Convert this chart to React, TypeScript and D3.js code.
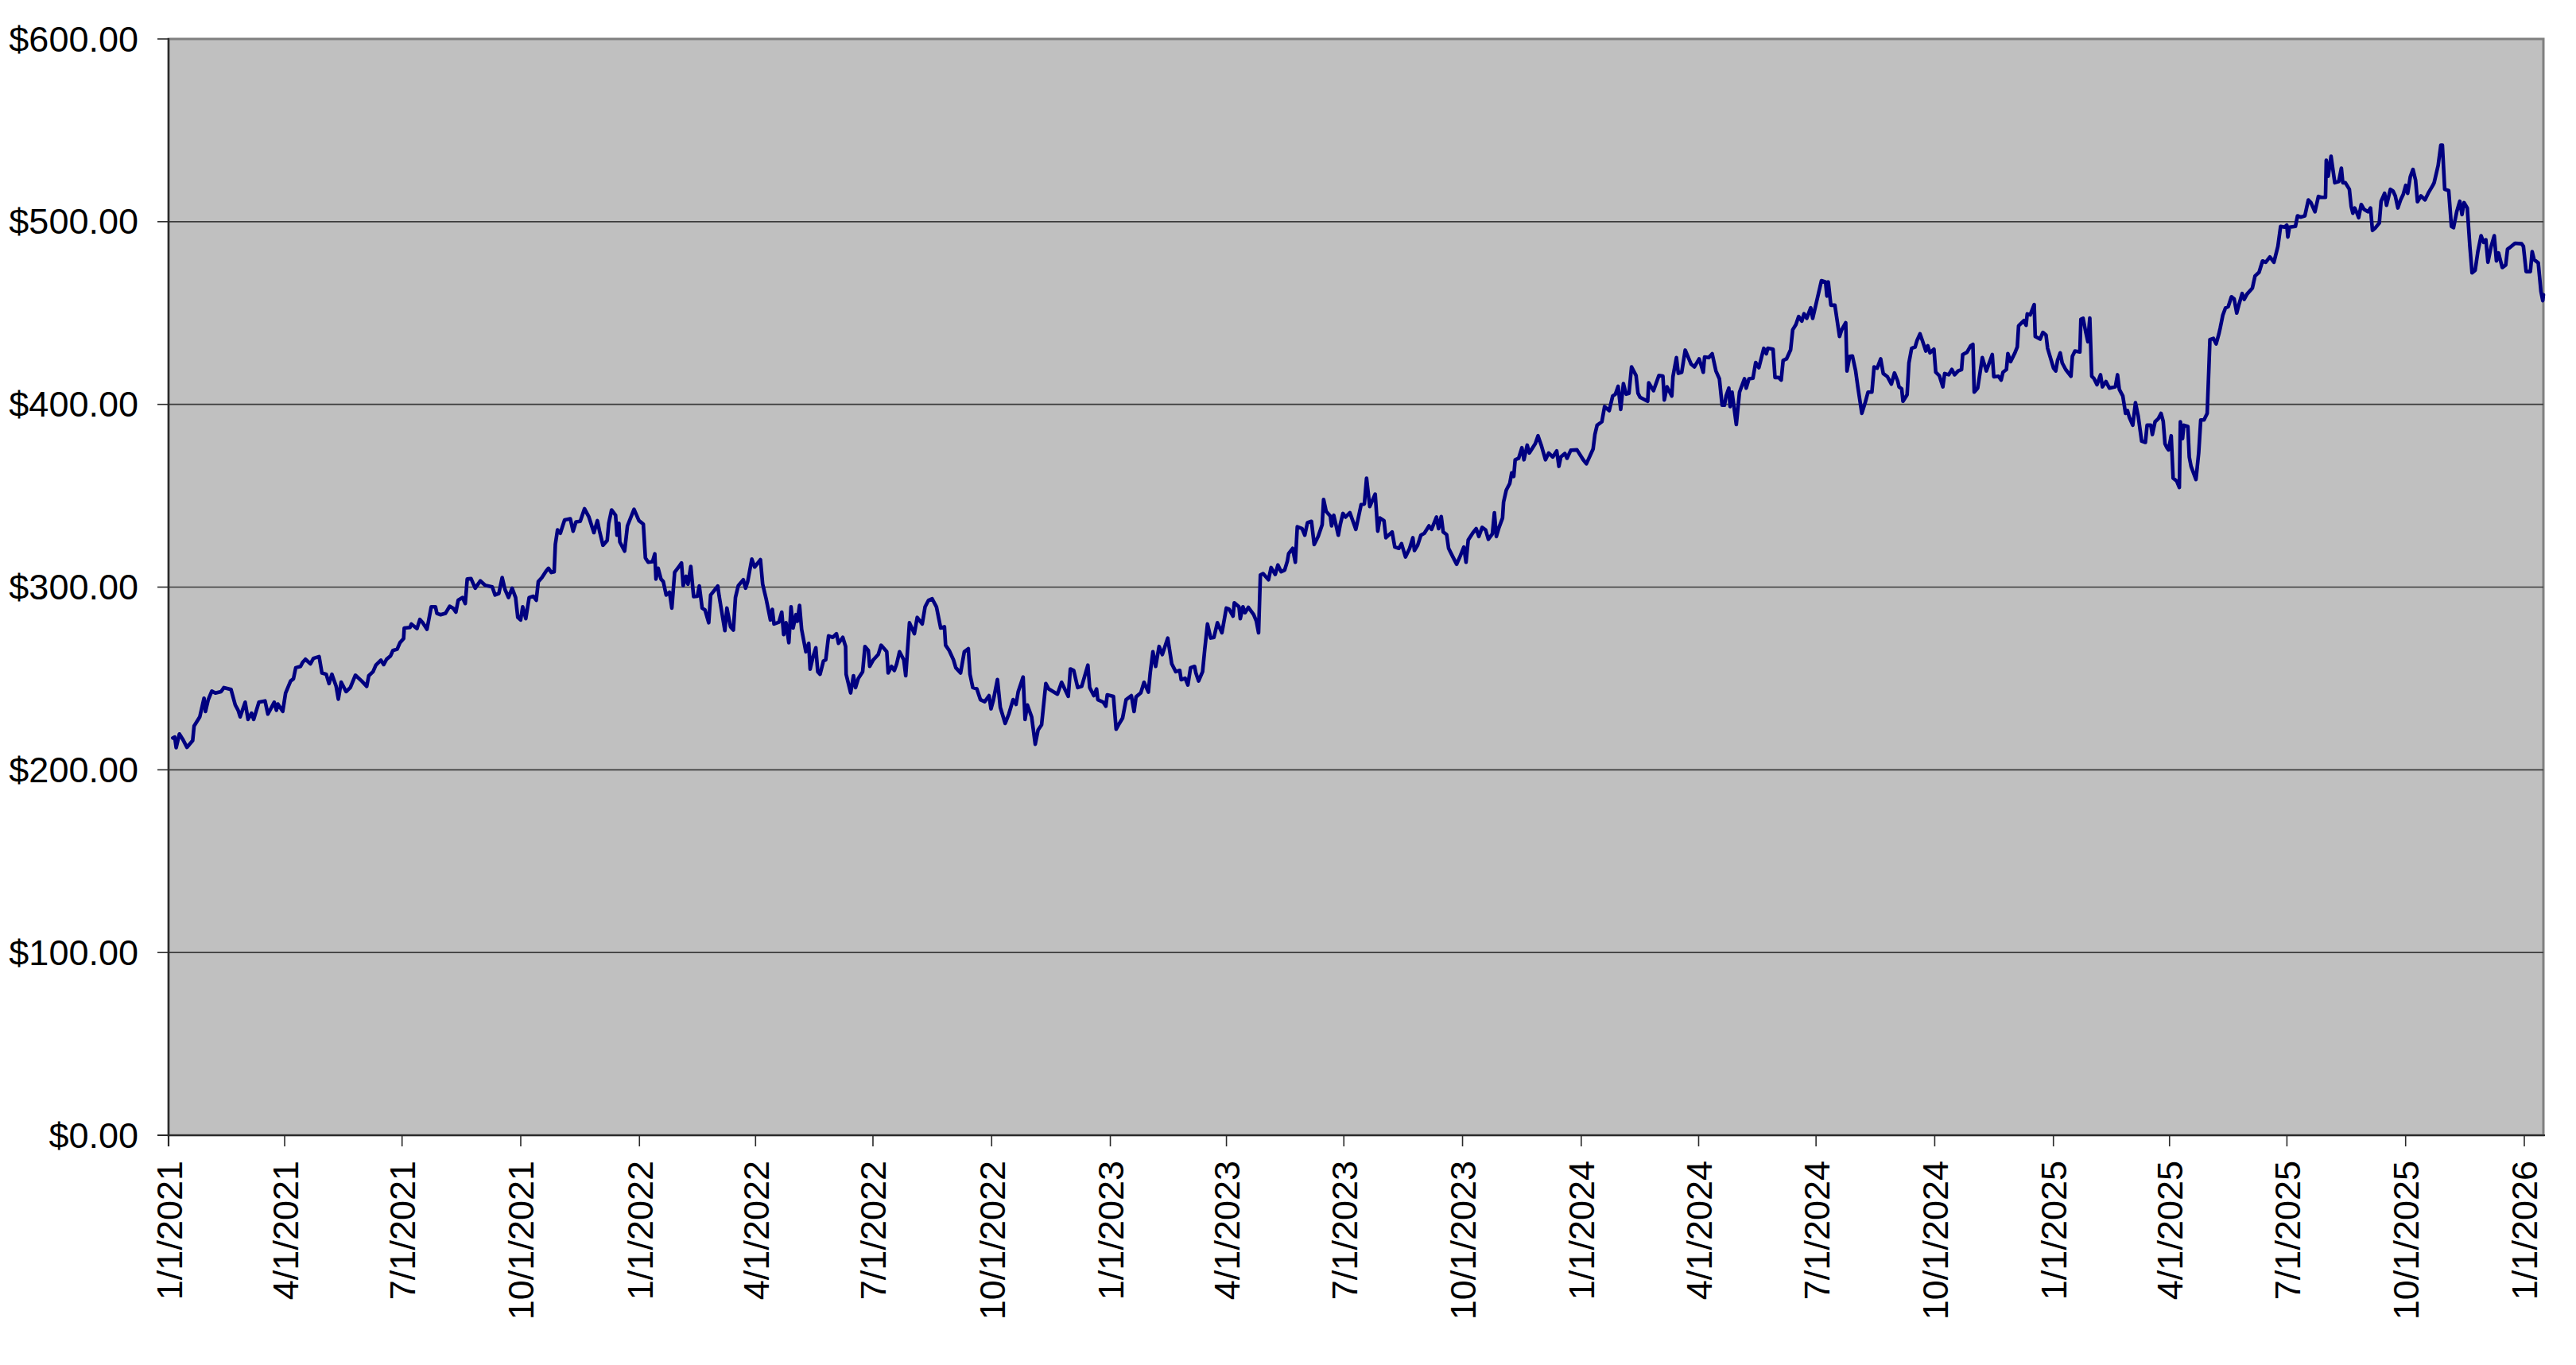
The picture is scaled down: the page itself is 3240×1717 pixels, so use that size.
import React from "react";
import * as d3 from "d3";

// Days since 1/1/2021 and closing price
const dayOffsets: number[] = [
  3.3, 4.8, 5.9, 8.4, 11, 14.3, 18.7, 19.8, 24.2, 27.5, 28.6, 30.8, 33.5, 36.3, 40.7, 42.9, 48.4, 51.7, 53.9, 55.5,
  59.4, 61.6, 64.3, 66, 70, 74.8, 77, 81.9, 83.6, 84.7, 88.5, 90.7, 94.6, 96.8, 98.6, 102.3, 103.9, 106.1, 110, 112.3,
  116.7, 118.9, 122.2, 124.4, 126.6, 129.9, 131.6, 133.8, 137.6, 140.9, 144.8, 149.7, 153.6, 155.2, 158.5, 160.7, 164.6, 166.8, 169, 172.1,
  173.9, 177.2, 179.4, 182.2, 182.7, 187.1, 188.2, 192.6, 194.8, 197, 200.3, 203.6, 206.9, 208, 210.9, 214.6, 217.9, 220.5, 222.7, 224.5,
  227.8, 230, 231.5, 234.4, 237.7, 241.7, 245.4, 250.9, 253.1, 256, 258.6, 260.8, 263.5, 266.3, 269, 270.7, 272.9, 274.5, 276.9, 279.5,
  282.8, 285, 286.6, 289.4, 292.7, 294.5, 296.7, 298.9, 299.8, 301.5, 303.7, 304.8, 307, 311.4, 313.6, 315.8, 319.1, 322.4, 325.7, 329.7,
  332.4, 334.1, 336.7, 340, 341.2, 343.4, 346.5, 347.6, 349.1, 349.8, 353.5, 355.7, 360.8, 364.6, 368, 369.6, 371.8, 375.1, 376.9, 377.8,
  379.5, 381.7, 383.5, 385.7, 388.3, 390.1, 392.3, 395.4, 397.6, 398.9, 401.1, 402.6, 404.8, 407, 409.9, 411.4, 413.6, 415.8, 418.7, 420.2,
  423.5, 425.7, 426.8, 431.2, 432.8, 435.6, 437.8, 439.4, 441.6, 445.5, 447.3, 448.9, 452.1, 454.3, 458.8, 460.5, 463.2, 466.5, 468, 469.3,
  473.1, 475.3, 476.8, 478.6, 480.8, 482.5, 484.1, 486.3, 487.4, 489.1, 490.7, 494, 496.2, 497.3, 499.5, 501.7, 503.2, 505, 507.6, 509.4,
  511.6, 514.9, 517.7, 519.3, 522.6, 524.8, 525.2, 528.7, 530.9, 532.5, 534.7, 538, 539.8, 542.4, 543.5, 546.3, 550.1, 552.3, 556.7, 557.8,
  560.4, 562.6, 564.4, 566.6, 569.9, 571.4, 574.3, 578.1, 580.3, 584.2, 586.4, 589.1, 591.9, 595.2, 598.5, 601.4, 602.3, 605.1, 608.4, 610.2,
  613.9, 616.8, 619.9, 621.2, 623.4, 626.5, 629.3, 632.6, 636, 637.5, 639.2, 642.5, 644.7, 648.5, 651.3, 654.6, 656.9, 658.6, 662.4, 663.9,
  665.7, 669, 671.8, 674, 676.7, 680, 682.2, 689, 692.2, 697.4, 699, 701.6, 704.7, 707.8, 712.6, 714, 717.2, 719.3, 720.3, 724.5,
  726.5, 727.6, 732.4, 734.5, 737, 739.5, 742.2, 746.3, 748.4, 749.9, 753.6, 756.1, 759.5, 760.9, 763, 765.1, 767.8, 770.3, 774.5, 777.6,
  780.7, 783.8, 784.9, 788, 790.1, 792.2, 795.3, 796.3, 798.4, 801.5, 803.2, 805.3, 807.8, 810.3, 813, 816.5, 819.9, 822, 825.1, 826.1,
  829.7, 830.7, 832.8, 834.4, 837, 841.1, 843.2, 844.9, 846.3, 848.4, 852.6, 854.6, 857.8, 859.9, 862.4, 865.1, 867.2, 868.2, 871.3, 873.4,
  874.9, 878.6, 880.7, 882.8, 885.9, 888, 891.1, 894.2, 895.3, 897.3, 900.5, 901.5, 903.2, 906.7, 908.2, 910.3, 912.3, 915.7, 920.3, 924.4,
  926.9, 928.6, 931.1, 935.3, 937.3, 939, 942.1, 943.6, 948.4, 950.5, 953.6, 955.7, 958.8, 962, 964.5, 965.7, 968.2, 970.7, 973.4, 977,
  979, 982.8, 984.4, 986.5, 988, 990.7, 992.2, 995.3, 998.4, 1001.1, 1004, 1005.7, 1007.4, 1009.4, 1011.1, 1013.6, 1015.6, 1018.2, 1020.9, 1023,
  1026.1, 1027.7, 1029.2, 1031.3, 1034, 1034.8, 1036.9, 1039.6, 1041.1, 1042.7, 1043.8, 1046.5, 1049, 1050.6, 1053.1, 1054.8, 1059.4, 1061.5, 1064, 1067.3,
  1069.8, 1072.9, 1076, 1077.7, 1079.2, 1082.3, 1084, 1086.9, 1091.7, 1096.5, 1099, 1104.2, 1105.6, 1107.3, 1111, 1113.1, 1116.7, 1119.4, 1121.5, 1123.6,
  1125.6, 1127.7, 1129.8, 1132, 1134, 1137.5, 1139, 1140.6, 1146.5, 1147.3, 1151, 1155.2, 1158.3, 1159.4, 1161.5, 1165.2, 1166.1, 1168.8, 1170.2, 1172.9,
  1175.6, 1180.2, 1182.7, 1186.4, 1189.6, 1190.6, 1193.8, 1196.5, 1199.4, 1202.1, 1204.2, 1206, 1207.3, 1209.4, 1210.4, 1211.9, 1215.2, 1217.7, 1221.5, 1222.9,
  1225, 1228.1, 1230.2, 1232.7, 1236.5, 1238.5, 1239.6, 1243.7, 1245.2, 1248, 1250, 1251.5, 1254.1, 1257.3, 1258.9, 1261.4, 1263.5, 1266, 1267.7, 1269.8,
  1272.9, 1274.4, 1278.1, 1281.2, 1284.4, 1285.4, 1286.5, 1288.5, 1291.6, 1295.2, 1296.9, 1300, 1301, 1303.1, 1305.2, 1307.7, 1309.4, 1312.5, 1315.2, 1317.3,
  1320.3, 1322, 1324.4, 1327.1, 1329.1, 1332.3, 1335.4, 1337.8, 1340.3, 1341.3, 1343.4, 1344.4, 1347.6, 1349, 1351.1, 1353.8, 1355.3, 1357.6, 1359.4, 1362.1,
  1363.6, 1365.3, 1368.4, 1369.8, 1372.6, 1375.3, 1376.7, 1379.8, 1382.3, 1384.4, 1387.1, 1389.8, 1390.7, 1394, 1396.9, 1398.6, 1399.6, 1402.3, 1405.9, 1409,
  1413.6, 1414.8, 1418.4, 1420.5, 1421.9, 1424.6, 1425.7, 1427.8, 1430.9, 1433, 1434, 1438.2, 1439.8, 1440.7, 1443, 1446.1, 1446.9, 1450.7, 1452.8, 1455.3,
  1456.5, 1461.1, 1462.8, 1464.2, 1466.3, 1467.8, 1470.5, 1474.6, 1475.7, 1477.7, 1481.5, 1482.3, 1484, 1486.1, 1487.7, 1489.2, 1490.7, 1492.3, 1494.8, 1497.5,
  1499, 1501.7, 1504.4, 1509, 1510.7, 1512.1, 1514.8, 1516.9, 1518.4, 1519.8, 1522.5, 1524.6, 1526.7, 1529.4, 1532.3, 1533.6, 1536.5, 1537.7, 1539.8, 1542.3,
  1544.4, 1546.1, 1547.5, 1549, 1550.2, 1552.3, 1553.8, 1556.5, 1558.6, 1559.4, 1561.1, 1562.1, 1565.2, 1566.3, 1567.7, 1571.5, 1573.6, 1575.2, 1577.7, 1580.2,
  1581.5, 1582.3, 1585, 1587.1, 1589.2, 1590.2, 1592.3, 1594.4, 1596.5, 1599, 1601.1, 1603.1, 1604.8, 1607.3, 1608.9, 1611.1, 1615.2, 1617.3, 1620.4, 1623.1,
  1625.6, 1628.8, 1631.9, 1635, 1637.1, 1640.2, 1641.9, 1642.7, 1644, 1648.6, 1650.2, 1652.8, 1655.9, 1658.6, 1660.6, 1663.7, 1666.4, 1668.8, 1671.9, 1672.5,
  1674, 1676.2, 1679.1, 1682.2, 1684.2, 1685.3, 1687.3, 1690.4, 1691.8, 1693.1, 1694.5, 1695.9, 1697.6, 1699.6, 1701.7, 1704.8, 1706.8, 1708.3, 1710.3, 1713.6,
  1715, 1717.7, 1719.2, 1722.2, 1724.3, 1726, 1728, 1730.1, 1732.1, 1734.1, 1735.6, 1737.6, 1739.7, 1741.7, 1743.2, 1745.9, 1749, 1752, 1755.1, 1756.1,
  1759.2, 1761.3, 1762.5, 1764.3, 1767.4, 1769.5, 1771.1, 1773.6, 1776, 1777.7, 1779.3, 1781.8, 1783.8, 1785.5, 1787.9, 1790, 1792.5, 1794.5, 1796.2, 1797.8,
  1800.3, 1802.7, 1804.4, 1806, 1808.9, 1811.6, 1813, 1814.7, 1818.8, 1823.9, 1825.3, 1827.4, 1830.7, 1832.1, 1833.6, 1836.8, 1838.9, 1840.3, 1840.8,
];

const prices: number[] = [
  217.4, 217.9, 212.1, 219.6, 216.7, 212.3, 216, 224, 229, 239.2, 231.9, 238.4, 243.1, 242, 242.8, 245, 244, 235.5, 232.6, 229,
  237, 227.6, 231, 227.6, 237, 237.7, 230.5, 237, 232.6, 236, 232, 242, 248.6, 249.8, 255.9, 256.6, 258.8, 260.5, 258, 261,
  262, 253, 252.3, 247.2, 252.3, 245.7, 238.7, 248, 242.8, 245, 251.8, 248.6, 245.7, 251.5, 253.7, 257.3, 260, 257.6, 260.5, 262.4,
  265.3, 266, 269.6, 271.8, 277.6, 277.9, 279.8, 277.3, 282.3, 280.5, 276.9, 289.2, 289.2, 285.6, 284.9, 285.6, 289.5, 288.5, 286.3, 292.8,
  294.3, 291, 304.4, 304.7, 299.4, 303.4, 301, 300.1, 295.7, 296.5, 305.2, 298.7, 294.3, 299.4, 294.3, 283.4, 282, 289.2, 282.7, 294.3,
  295, 292.8, 303, 305.2, 308.8, 310.3, 308, 308.4, 323.3, 331.3, 329.5, 332, 336.8, 337.4, 330.6, 335.7, 336, 342.9, 338.6, 329.8,
  336.4, 330.6, 322.9, 325.5, 334.9, 342.2, 339.3, 328.4, 334.9, 324.7, 319.7, 333.5, 342.6, 336.4, 334.5, 316, 313.6, 313.9, 318.2, 304.4,
  310.3, 304.4, 303, 295.7, 297.2, 288.5, 308.1, 311, 313.2, 300.8, 305.9, 301.6, 311.3, 294.8, 295, 300.6, 288.5, 287.5, 280.5, 295.7,
  298.6, 300.6, 295, 276.2, 288.5, 278.3, 276.5, 294.3, 300.8, 304, 299.4, 303, 315.3, 311, 315, 301.6, 293.6, 282, 287.8, 279.8,
  280.8, 286.3, 274, 280.5, 269.6, 289.2, 277.6, 284.9, 281.3, 290, 276.9, 264.6, 269.2, 255.1, 261.7, 266.8, 253.7, 252.3, 259.5, 260.2,
  273.3, 272.5, 274.5, 269.2, 272.5, 267.5, 252.3, 242.1, 251.5, 245, 250.1, 253.7, 267.5, 265.3, 256.6, 260.2, 263.1, 268.2, 264.6, 253,
  256.6, 254.4, 258, 264.6, 260.2, 251.5, 280.5, 274.5, 283.4, 279.8, 289.2, 292.8, 293.6, 289.2, 277.6, 278.3, 268.2, 265.3, 260.2, 255.9,
  253, 264.6, 266.3, 252.3, 245, 244.3, 238.4, 237.3, 240.6, 233.4, 237.7, 249.4, 234.2, 225.4, 230.5, 238.4, 235.8, 242.8, 250.8, 227.6,
  235.5, 229, 214, 221.8, 224.6, 247.2, 244.3, 241.4, 247.9, 240.2, 255.2, 254.4, 245, 245.7, 257.3, 245, 240.6, 244.3, 238.4, 237,
  234.8, 241, 240.2, 222.2, 225.4, 228.3, 238.4, 240.6, 231.9, 239.9, 242.1, 247.9, 242.5, 253, 264.6, 256.6, 267.5, 263.1, 272.1, 258,
  253.7, 254.4, 249.3, 250.1, 246.4, 255.9, 256.6, 253, 248.6, 253.7, 266, 279.8, 272.1, 272.5, 280.5, 275, 288.5, 288, 284.1, 291.4,
  289.2, 282.7, 289.2, 286, 288.9, 284.9, 281.3, 275, 306.6, 307.4, 304, 310.7, 306.9, 312.1, 308.4, 309.3, 314.2, 318.3, 321.2, 313.6,
  333, 332, 328.4, 335.3, 336, 323.3, 327.7, 334.2, 348, 341.4, 338.8, 333.5, 339.3, 328.4, 334.2, 340.3, 338.3, 340.7, 331.6, 345.1,
  345.5, 359.6, 344.1, 350.9, 330.6, 337.8, 336.4, 327, 330.2, 321.9, 321.2, 323.8, 316.5, 321.2, 327, 320, 322.9, 328.4, 329.5, 333.5,
  331.6, 338.3, 332, 338.6, 330.2, 328.7, 321.2, 316.8, 312.5, 316.8, 321.9, 313.6, 325.8, 328, 329.8, 332, 327.7, 332.7, 331.3, 326.2,
  329.1, 340.7, 327.7, 332.7, 337.8, 346.6, 353.1, 356.7, 362.5, 360.6, 369.7, 370.5, 376.3, 369.7, 377.7, 373.4, 378.5, 382.8, 377.7, 369.7,
  373.4, 371.2, 374.5, 366.1, 371.2, 373.1, 370.5, 374.9, 375.1, 369.7, 367.5, 375.6, 383.5, 388.6, 390.5, 398.8, 396.6, 404.6, 405.6, 409.9,
  397.3, 411.4, 405.6, 406, 420.5, 415.8, 406.1, 403.9, 401.7, 411.8, 407.5, 415.8, 415.5, 402.4, 409.6, 404.6, 415.2, 425.6, 417, 417.6,
  429.7, 422, 420.5, 424.9, 417.6, 425.9, 425.6, 427.7, 418.3, 414, 399.5, 399.5, 404.6, 408.9, 398.8, 406.7, 389, 406.7, 414, 408.9,
  414, 414.3, 422.9, 420.1, 430.7, 427.7, 430.7, 430.2, 414.7, 414.7, 413.3, 424.1, 424.9, 429.9, 440.8, 443.7, 448.1, 445.6, 449.6, 447.1,
  452.9, 447.1, 458.3, 467.7, 467, 459.3, 467, 454.3, 454.3, 437.2, 440.8, 444.7, 418.3, 426.3, 426.5, 418.3, 409.6, 395.1, 401.2, 406.7,
  406.7, 420.5, 419.8, 424.9, 416.9, 415.2, 411.1, 417.2, 412.8, 409.6, 408.5, 401.7, 405.3, 422.7, 430.7, 431.4, 435, 438.6, 435, 429.2,
  432.1, 428.2, 430.2, 417.6, 415.7, 409.6, 416.9, 416.2, 419.1, 416.2, 418.3, 419.1, 427.3, 428.5, 432.1, 432.8, 406.7, 408.9, 425.6, 418.3,
  427.3, 415.1, 415.4, 413.3, 417.6, 419.1, 427.8, 423.4, 427.8, 431.4, 443, 445.9, 443.3, 449.5, 449, 454.6, 437.2, 435.7, 439.4, 437.9,
  430.7, 419.8, 418.3, 424.1, 428.2, 422.7, 419.1, 415.4, 426.3, 429.2, 428.7, 446.6, 447.1, 439.4, 434.3, 447.3, 415.4, 414.3, 410.8, 416.2,
  409.6, 412.5, 408.9, 409.6, 416.2, 408.2, 404.6, 395.1, 396.6, 393, 388.6, 400.9, 393.7, 379.9, 379.2, 388.6, 388.6, 383.5, 390.5, 392.2,
  395.1, 390.8, 378.4, 376.3, 375.1, 382.8, 359.6, 358.1, 354.5, 390.5, 381.3, 388.6, 387.9, 371.2, 366.1, 358.9, 373.4, 391.5, 391.5, 395.1,
  419.8, 435.5, 436.1, 433.1, 438.4, 441.5, 448.8, 452.8, 453.5, 458.9, 457.7, 450, 454.6, 460.7, 457.5, 460.4, 463.6, 470.3, 472.3, 478.5,
  477.8, 480.7, 477.8, 486.5, 497.4, 497, 498.1, 491.6, 497, 497.4, 503.2, 502.5, 503.2, 511.9, 510.4, 505.4, 513.8, 513.3, 513.3, 533.6,
  524.9, 535.8, 521.3, 522, 529.3, 521.3, 521.3, 517.7, 508.3, 504.6, 507.5, 505.4, 502.2, 509.4, 506.8, 505.4, 507.5, 495.2, 496.4, 499.3,
  511.2, 515.5, 509, 517.7, 516.7, 514.1, 507.5, 511.9, 514.8, 519.9, 515.5, 524.5, 528.6, 522.8, 510.9, 514.1, 511.9, 516.2, 519.9, 521.3,
  530.7, 541.9, 541.9, 517.7, 517, 497.4, 496.7, 505.4, 511.2, 503.9, 510.4, 507.5, 486.5, 472, 473.4, 483.6, 492.3, 488.7, 490.1, 477.8,
  486.5, 492.3, 478.5, 482.9, 474.9, 476.3, 485, 485.8, 488.2, 487.9, 486.5, 472.7, 472.7, 483.6, 479.2, 477.5, 461.8, 456.8, 460,
];

const yTickValues: number[] = [0, 100, 200, 300, 400, 500, 600];
const xTickLabels: string[] = [
  "1/1/2021", "4/1/2021", "7/1/2021", "10/1/2021",
  "1/1/2022", "4/1/2022", "7/1/2022", "10/1/2022",
  "1/1/2023", "4/1/2023", "7/1/2023", "10/1/2023",
  "1/1/2024", "4/1/2024", "7/1/2024", "10/1/2024",
  "1/1/2025", "4/1/2025", "7/1/2025", "10/1/2025",
  "1/1/2026",
];
const startDate = "1/1/2021";
const endDayOffset = 1840.8;

const W = 3240;
const H = 1717;
const M = { left: 212, top: 49, right: 3199, bottom: 1428 };
const FONT = "'Liberation Sans', Arial, Helvetica, sans-serif";

function parseMDY(s: string): Date {
  const [m, d, y] = s.split("/").map(Number);
  return new Date(y, m - 1, d);
}

export default function App() {
  const t0 = parseMDY(startDate);
  const dayMs = 86400000;
  const toDate = (off: number) => new Date(t0.getTime() + off * dayMs);

  const x = d3.scaleTime().domain([t0, toDate(endDayOffset)]).range([M.left, M.right]);
  const y = d3.scaleLinear().domain([0, 600]).range([M.bottom, M.top]);

  const points: [Date, number][] = dayOffsets.map((d, i) => [toDate(d), prices[i]]);
  const line = d3
    .line<[Date, number]>()
    .x((p) => x(p[0]))
    .y((p) => y(p[1]));

  const fmt = d3.format("$,.2f");
  const xTicks = xTickLabels.map((s) => ({ label: s, date: parseMDY(s) }));

  return (
    <div style={{ position: "absolute", left: 0, top: 0 }}>
      <svg width={W} height={H} style={{ display: "block", background: "#ffffff" }}>
        {/* plot area */}
        <rect
          x={M.left}
          y={M.top}
          width={M.right - M.left}
          height={M.bottom - M.top}
          fill="#C0C0C0"
          stroke="#808080"
          strokeWidth={3}
        />
        {/* gridlines */}
        {yTickValues
          .filter((v) => v > 0 && v < 600)
          .map((v) => (
            <line
              key={"g" + v}
              x1={M.left}
              x2={M.right}
              y1={y(v)}
              y2={y(v)}
              stroke="#3c3c3c"
              strokeWidth={1.6}
            />
          ))}
        {/* series */}
        <path
          d={line(points) || ""}
          fill="none"
          stroke="#000080"
          strokeWidth={4.6}
          strokeLinejoin="round"
          strokeLinecap="round"
        />
        {/* axes lines */}
        <line x1={M.left} x2={M.left} y1={M.top - 1} y2={M.bottom + 14} stroke="#2a2a2a" strokeWidth={2.2} />
        <line x1={M.left - 14} x2={M.right + 2} y1={M.bottom} y2={M.bottom} stroke="#2a2a2a" strokeWidth={2.2} />
        {/* y ticks and labels */}
        {yTickValues.map((v) => (
          <g key={"y" + v}>
            <line x1={M.left - 14} x2={M.left} y1={y(v)} y2={y(v)} stroke="#2a2a2a" strokeWidth={1.6} />
            <text
              x={174}
              y={y(v)}
              dy="0.0em"
              dominantBaseline="central"
              textAnchor="end"
              fontFamily={FONT}
              fontSize={45}
              fill="#000"
            >
              {fmt(v)}
            </text>
          </g>
        ))}
        {/* x ticks and labels */}
        {xTicks.map((t) => {
          const xx = x(t.date);
          return (
            <g key={"x" + t.label}>
              <line x1={xx} x2={xx} y1={M.bottom} y2={M.bottom + 14} stroke="#2a2a2a" strokeWidth={1.6} />
              <text
                transform={`translate(${xx + 1},${1460}) rotate(-90)`}
                dominantBaseline="central"
                textAnchor="end"
                fontFamily={FONT}
                fontSize={45}
                fill="#000"
              >
                {t.label}
              </text>
            </g>
          );
        })}
      </svg>
    </div>
  );
}
